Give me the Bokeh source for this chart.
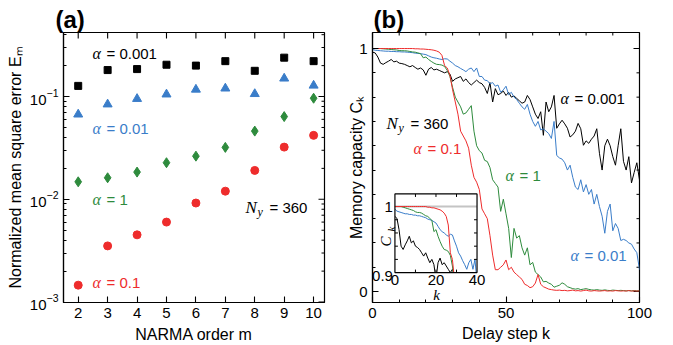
import numpy as np
from bokeh.plotting import figure
from bokeh.models import Range1d, Label, FixedTicker, Title
from bokeh.layouts import row
from bokeh.embed import file_html
from bokeh.resources import INLINE
from bokeh.core.properties import value

# ---------------- panel (a) data ----------------
narma_order = [2, 3, 4, 5, 6, 7, 8, 9, 10]
nmse_a0001 = [0.127, 0.181, 0.185, 0.204, 0.200, 0.221, 0.178, 0.239, 0.221]
nmse_a001 = [0.067, 0.084, 0.095, 0.105, 0.117, 0.120, 0.106, 0.150, 0.128]
nmse_a1 = [0.0148, 0.0162, 0.0184, 0.0227, 0.0263, 0.032, 0.0461, 0.0638, 0.0963]
nmse_a01 = [0.00146, 0.00352, 0.00451, 0.0060, 0.0092, 0.0120, 0.0191, 0.0322, 0.0419]

# ---------------- panel (b) data ----------------
delay_k = list(range(0, 101))
mc_a01 = [1.0, 1.0, 1.0, 1.0, 1.0, 1.0, 1.0, 1.0, 1.0, 1.0,
          1.0, 1.0, 1.0, 1.0, 1.0, 1.0, 0.999, 0.999, 0.998, 0.998,
          0.997, 0.996, 0.995, 0.993, 0.99, 0.985, 0.972, 0.93, 0.92, 0.89,
          0.83, 0.78, 0.73, 0.66, 0.64, 0.62, 0.59, 0.52, 0.47, 0.45,
          0.42, 0.34, 0.32, 0.30, 0.23, 0.15, 0.09, 0.09, 0.10, 0.11,
          0.13, 0.09, 0.10, 0.08, 0.07, 0.06, 0.05, 0.03, 0.025, 0.016,
          0.02, 0.035, 0.07, 0.03, 0.02, 0.015, 0.01, 0.008, 0.006, 0.005,
          0.006, 0.004, 0.005, 0.003, 0.004, 0.006, 0.003, 0.004, 0.002, 0.004,
          0.006, 0.003, 0.002, 0.004, 0.003, 0.002, 0.003, 0.004, 0.002, 0.003,
          0.002, 0.004, 0.003, 0.002, 0.003, 0.002, 0.004, 0.002, 0.003, 0.002,
          0.003]
mc_a1 = [1.0, 1.0, 1.0, 1.0, 0.999, 0.998, 0.997, 0.996, 0.995, 0.994,
         0.992, 0.991, 0.991, 0.99, 0.988, 0.986, 0.985, 0.982, 0.979, 0.962,
         0.965, 0.955, 0.947, 0.94, 0.935, 0.934, 0.932, 0.926, 0.91, 0.885,
         0.84, 0.80, 0.78, 0.76, 0.73, 0.735, 0.75, 0.765, 0.66, 0.60,
         0.58, 0.57, 0.54, 0.535, 0.51, 0.46, 0.445, 0.43, 0.33, 0.38,
         0.32, 0.26, 0.14, 0.26, 0.22, 0.23, 0.18, 0.15, 0.18, 0.11,
         0.12, 0.08, 0.07, 0.06, 0.04, 0.042, 0.035, 0.03, 0.018, 0.022,
         0.026, 0.036, 0.03, 0.02, 0.016, 0.012, 0.01, 0.012, 0.008, 0.01,
         0.012, 0.009, 0.007, 0.006, 0.008, 0.006, 0.005, 0.007, 0.005, 0.004,
         0.006, 0.005, 0.004, 0.005, 0.004, 0.003, 0.004, 0.003, 0.004, 0.003,
         0.003]
mc_a001 = [0.996, 0.993, 0.992, 0.991, 0.99, 0.989, 0.989, 0.988, 0.988, 0.987,
           0.987, 0.986, 0.986, 0.985, 0.984, 0.983, 0.981, 0.98, 0.979, 0.977,
           0.975, 0.97, 0.965, 0.962, 0.96, 0.957, 0.955, 0.958, 0.957, 0.948,
           0.94, 0.93, 0.925, 0.918, 0.912, 0.905, 0.915, 0.92, 0.905, 0.92,
           0.885, 0.885, 0.87, 0.868, 0.855, 0.86, 0.845, 0.85, 0.82, 0.83,
           0.845, 0.81, 0.82, 0.80, 0.79, 0.775, 0.76, 0.75, 0.77, 0.73,
           0.70, 0.68, 0.70, 0.665, 0.67, 0.66, 0.65, 0.63, 0.70, 0.56,
           0.55, 0.545, 0.53, 0.50, 0.52, 0.47, 0.43, 0.42, 0.46, 0.41,
           0.44, 0.40, 0.42, 0.36, 0.40, 0.35, 0.31, 0.24, 0.33, 0.36,
           0.25, 0.28, 0.26, 0.21, 0.215, 0.21, 0.20, 0.195, 0.175, 0.16,
           0.09]
mc_a0001 = [0.985, 0.982, 0.965, 0.94, 0.935, 0.942, 0.948, 0.955, 0.945, 0.948,
            0.94, 0.938, 0.935, 0.93, 0.925, 0.93, 0.922, 0.915, 0.92, 0.912,
            0.89, 0.915, 0.922, 0.912, 0.915, 0.91, 0.905, 0.90, 0.905, 0.895,
            0.865, 0.875, 0.88, 0.885, 0.865, 0.875, 0.86, 0.85, 0.86, 0.87,
            0.86, 0.855, 0.84, 0.815, 0.86, 0.78, 0.835, 0.81, 0.815, 0.825,
            0.807, 0.82, 0.80, 0.805, 0.795, 0.785, 0.775, 0.78, 0.807, 0.79,
            0.76, 0.73, 0.712, 0.74, 0.643, 0.78, 0.74, 0.76, 0.807, 0.672,
            0.69, 0.705, 0.69, 0.672, 0.636, 0.645, 0.66, 0.692, 0.67, 0.602,
            0.62, 0.61, 0.627, 0.64, 0.67, 0.569, 0.50, 0.60, 0.627, 0.60,
            0.555, 0.52, 0.60, 0.67, 0.536, 0.50, 0.555, 0.447, 0.49, 0.53,
            0.459]

# ---------------- ticks ----------------
a_xticks = [2, 3, 4, 5, 6, 7, 8, 9, 10]
a_ymajor = [0.001, 0.01, 0.1]
a_yminor = [0.002, 0.003, 0.004, 0.005, 0.006, 0.007, 0.008, 0.009,
            0.02, 0.03, 0.04, 0.05, 0.06, 0.07, 0.08, 0.09, 0.2, 0.3, 0.4]
b_xticks = [0, 50, 100]
b_xminor = [10, 20, 30, 40, 60, 70, 80, 90]
b_yticks = [0, 1]
b_yminor = [0.1, 0.2, 0.3, 0.4, 0.5, 0.6, 0.7, 0.8, 0.9]
inset_xlabels = [0, 20, 40]
inset_xminor = [10, 20, 30]
inset_ylabels = [0.9, 1.0]
inset_yminor = [0.92, 0.94, 0.96, 0.98]
inset_xlim = (0, 40)
inset_ylim = (0.9, 1.019)

BLACK = "#000000"
BLUE = "#3a7dc9"
GREEN = "#2e8b3d"
RED = "#ee2c2c"
SANS = "Liberation Sans"
SERIF = "Liberation Serif"


def style_axis(ax, label, standoff, size="15px"):
    ax.axis_line_color = "black"
    ax.axis_line_width = 1.2
    ax.major_tick_in = 6
    ax.major_tick_out = 0
    ax.minor_tick_in = 3
    ax.minor_tick_out = 0
    ax.major_tick_line_color = "black"
    ax.minor_tick_line_color = "black"
    ax.major_tick_line_width = 1.1
    ax.minor_tick_line_width = 1.0
    ax.major_label_text_font = SANS
    ax.major_label_text_color = "black"
    ax.major_label_text_font_size = size
    ax.major_label_standoff = 5
    ax.axis_label = label
    ax.axis_label_text_font = SANS
    ax.axis_label_text_font_size = "16px"
    ax.axis_label_text_font_style = "normal"
    ax.axis_label_text_color = "black"
    ax.axis_label_standoff = standoff


def mirror_ticks(fig, xr, yr, xmaj, xmin, ymaj, ymin):
    # inward ticks on the top and right frame edges
    fig.ray(x=xmaj, y=[yr.end] * len(xmaj), length=6, angle=-np.pi / 2,
            length_units="screen", line_color="black", line_width=1.1)
    if xmin:
        fig.ray(x=xmin, y=[yr.end] * len(xmin), length=3, angle=-np.pi / 2,
                length_units="screen", line_color="black")
    fig.ray(x=[xr.end] * len(ymaj), y=ymaj, length=6, angle=np.pi,
            length_units="screen", line_color="black", line_width=1.1)
    if ymin:
        fig.ray(x=[xr.end] * len(ymin), y=ymin, length=3, angle=np.pi,
                length_units="screen", line_color="black")


def make_labeler(fig, frame_left, frame_bottom):
    def lab(x, y, text, size=15, font=SANS, style="normal", color="black",
            align="left", baseline="middle", angle=0.0):
        fig.add_layout(Label(x=x - frame_left, y=frame_bottom - y,
                             x_units="screen", y_units="screen", text=text,
                             text_font=font, text_font_size=f"{size}px",
                             text_font_style=style, text_color=color,
                             text_align=align, text_baseline=baseline,
                             angle=angle))
    return lab


def panel_title(fig, text, offset):
    fig.add_layout(Title(text=text, align="left", offset=offset, standoff=0,
                         text_font=SANS, text_font_size="24px",
                         text_font_style="bold", text_color="black"), "above")


def alpha_label(lab, x, y, rest, color):
    lab(x, y, "α", size=16, font=SERIF, style="italic", color=color)
    lab(x + 14, y, rest, size=15, color=color)


def ny_label(lab, x, y):
    lab(x, y, "N", size=17, font=SERIF, style="italic")
    lab(x + 12, y + 4, "y", size=12, font=SERIF, style="italic")
    lab(x + 24, y, "= 360", size=15)


# ================= panel (a) =================
xr_a = Range1d(1.5, 10.37)
yr_a = Range1d(0.00099, 0.42)
pa = figure(width=340, height=345, x_range=xr_a, y_range=yr_a, y_axis_type="log",
            output_backend="svg", toolbar_location=None,
            min_border_left=63, min_border_right=16,
            min_border_top=32, min_border_bottom=43)
pa.xgrid.grid_line_color = None
pa.ygrid.grid_line_color = None
pa.outline_line_color = "black"
pa.outline_line_width = 1.2
pa.xaxis[0].ticker = FixedTicker(ticks=a_xticks, minor_ticks=[])
style_axis(pa.xaxis[0], "NARMA order m", 5)
style_axis(pa.yaxis[0], "Normalized mean square error Eₘ", 3)
mirror_ticks(pa, xr_a, yr_a, a_xticks, [], a_ymajor, a_yminor)
panel_title(pa, "(a)", -8)

pa.scatter(narma_order, nmse_a0001, marker="square", size=7, color=BLACK)
pa.scatter(narma_order, nmse_a001, marker="triangle", size=9, color=BLUE)
pa.scatter(narma_order, nmse_a1, marker="diamond", size=10, color=GREEN)
pa.scatter(narma_order, nmse_a01, marker="circle", size=8, color=RED)

la = make_labeler(pa, 63, 302)
alpha_label(la, 92, 53, "= 0.001", BLACK)
alpha_label(la, 92, 128, "= 0.01", BLUE)
alpha_label(la, 92, 199, "= 1", GREEN)
alpha_label(la, 92, 282, "= 0.1", RED)
ny_label(la, 245, 207)

# ================= panel (b) =================
xr_b = Range1d(0, 100)
yr_b = Range1d(-0.045, 1.066)
pb = figure(width=333, height=345, x_range=xr_b, y_range=yr_b,
            output_backend="svg", toolbar_location=None,
            min_border_left=32, min_border_right=34,
            min_border_top=32, min_border_bottom=41)
pb.xgrid.grid_line_color = None
pb.ygrid.grid_line_color = None
pb.outline_line_color = "black"
pb.outline_line_width = 1.2
pb.xaxis[0].ticker = FixedTicker(ticks=b_xticks, minor_ticks=b_xminor)
pb.yaxis[0].ticker = FixedTicker(ticks=b_yticks, minor_ticks=b_yminor)
style_axis(pb.xaxis[0], "Delay step k", 4)
style_axis(pb.yaxis[0], "Memory capacity Cₖ", -9)
mirror_ticks(pb, xr_b, yr_b, b_xticks, b_xminor, b_yticks, b_yminor)
panel_title(pb, "(b)", 1)

for ys, col in [(mc_a0001, BLACK), (mc_a001, BLUE), (mc_a1, GREEN), (mc_a01, RED)]:
    pb.line(delay_k, ys, color=col, line_width=1.0)

# inset as a sub-coordinate system inside panel (b)
ins = pb.subplot(x_source=Range1d(*inset_xlim), y_source=Range1d(*inset_ylim),
                 x_target=Range1d(8.4, 39.15), y_target=Range1d(0.078, 0.4016))
ins.quad(left=inset_xlim[0], right=inset_xlim[1], bottom=inset_ylim[0],
         top=inset_ylim[1], fill_color="white", line_color=None)
ins.segment(x0=inset_xlim[0], y0=1.0, x1=inset_xlim[1], y1=1.0,
            line_color="#c4c4c4", line_width=2.2)


def clip_low(xs, ys, lo, xmax):
    ox, oy = [], []
    pts = [(x, y) for x, y in zip(xs, ys) if x <= xmax]
    for i, (x, y) in enumerate(pts):
        if y >= lo:
            if i > 0 and pts[i - 1][1] < lo:
                x0, y0 = pts[i - 1]
                t = (lo - y0) / (y - y0)
                ox.append(x0 + t * (x - x0)); oy.append(lo)
            ox.append(x); oy.append(y)
        else:
            if i > 0 and pts[i - 1][1] >= lo:
                x0, y0 = pts[i - 1]
                t = (y0 - lo) / (y0 - y)
                ox.append(x0 + t * (x - x0)); oy.append(lo)
                ox.append(np.nan); oy.append(np.nan)
    return ox, oy


for ys, col in [(mc_a0001, BLACK), (mc_a001, BLUE), (mc_a1, GREEN), (mc_a01, RED)]:
    cx, cy = clip_low(delay_k, ys, inset_ylim[0], inset_xlim[1])
    ins.line(cx, cy, color=col, line_width=1.0)

ins.quad(left=inset_xlim[0], right=inset_xlim[1], bottom=inset_ylim[0],
         top=inset_ylim[1], fill_color=None, line_color="black", line_width=1.2)
# inset ticks
ins.ray(x=inset_xminor, y=[inset_ylim[0]] * len(inset_xminor), length=3,
        angle=np.pi / 2, length_units="screen", line_color="black")
ins.ray(x=inset_xminor, y=[inset_ylim[1]] * len(inset_xminor), length=3,
        angle=-np.pi / 2, length_units="screen", line_color="black")
ins.ray(x=[inset_xlim[0]] * len(inset_yminor), y=inset_yminor, length=3,
        angle=0, length_units="screen", line_color="black")
ins.ray(x=[inset_xlim[1]] * len(inset_yminor), y=inset_yminor, length=3,
        angle=np.pi, length_units="screen", line_color="black")
ins.text(x=inset_xlabels, y=[inset_ylim[0]] * len(inset_xlabels),
         text=[str(v) for v in inset_xlabels], y_offset=2,
         text_align="center", text_baseline="top",
         text_font=value(SANS), text_font_size="15px", text_color="black")
ins.text(x=[inset_xlim[0]] * len(inset_ylabels), y=inset_ylabels,
         text=["0.9", "1"], x_offset=-2, y_offset=[3, 0],
         text_align="right", text_baseline="middle",
         text_font=value(SANS), text_font_size="15px", text_color="black")

lb = make_labeler(pb, 372, 304)
# inset axis titles
lb(385, 248, "C", size=15, font=SERIF, style="italic", angle=np.pi / 2)
lb(390, 233, "k", size=11, font=SERIF, style="italic", angle=np.pi / 2)
lb(436, 296, "k", size=15, font=SERIF, style="italic", align="center")

alpha_label(lb, 560, 100, "= 0.001", BLACK)
alpha_label(lb, 413, 150, "= 0.1", RED)
alpha_label(lb, 505, 177, "= 1", GREEN)
alpha_label(lb, 570, 257, "= 0.01", BLUE)
ny_label(lb, 386, 125)

p = row(pa, pb)
open("out.html", "w").write(file_html(p, INLINE))
